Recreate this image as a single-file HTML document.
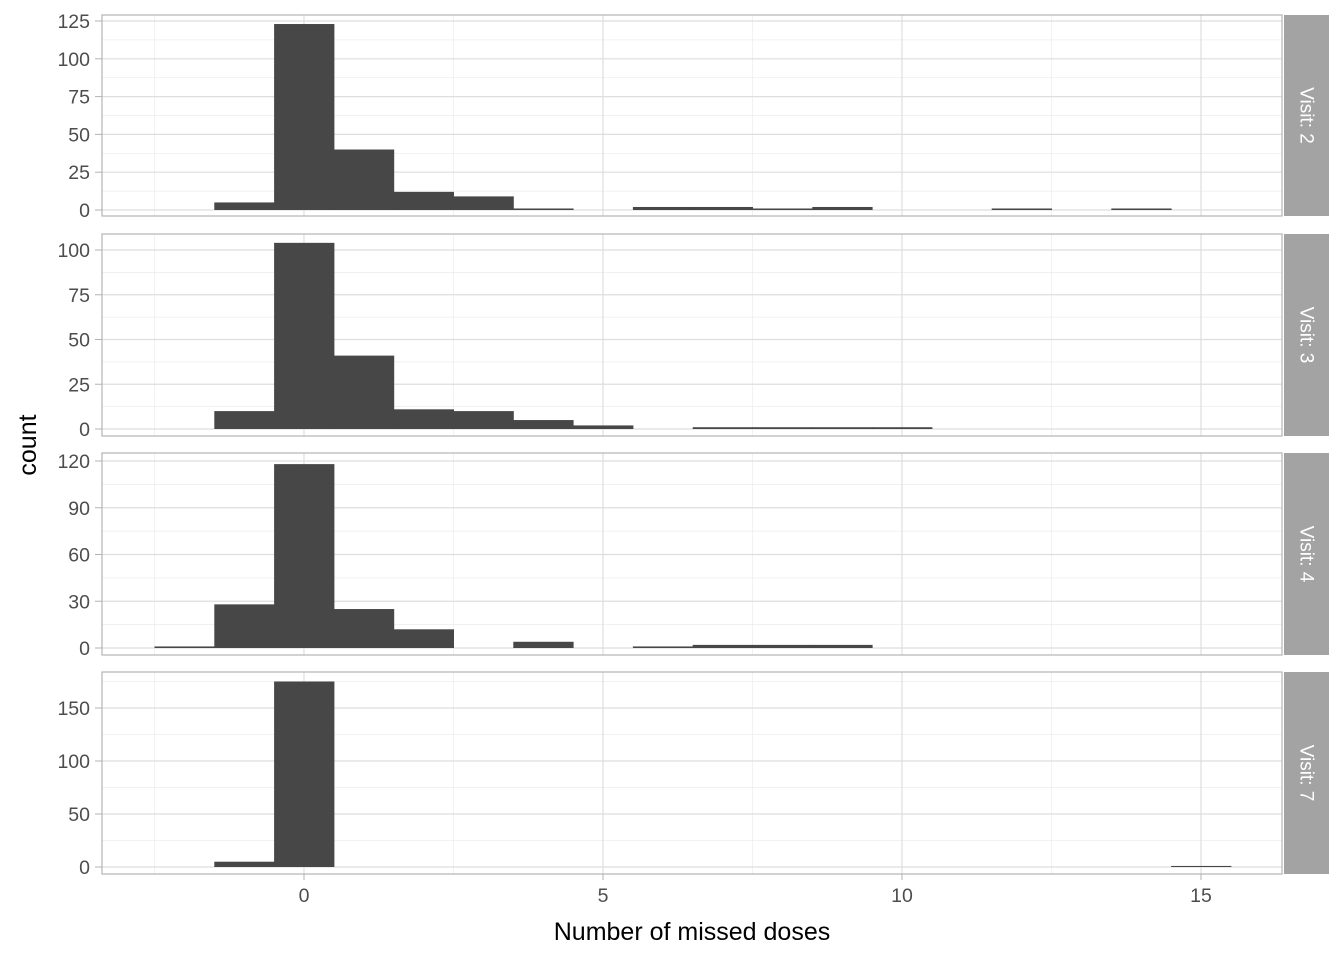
<!DOCTYPE html>
<html><head><meta charset="utf-8"><style>
body{margin:0;background:#fff;}
svg text{font-family:"Liberation Sans",Arial,sans-serif;}
</style></head><body>
<svg id="chart" width="1344" height="960" xmlns="http://www.w3.org/2000/svg"></svg>
<script>
const xTicks=[0,5,10,15];
const bins1=[-1,0,1,2,3,4,6,7,8,9,12,14];
const counts1=[5,123,40,12,9,1,2,2,1,2,1,1];
const bins2=[-1,0,1,2,3,4,5,7,8,9,10];
const counts2=[10,104,41,11,10,5,2,1,1,1,1];
const bins3=[-2,-1,0,1,2,4,6,7,8,9];
const counts3=[1,28,118,25,12,4,1,2,2,2];
const bins4=[-1,0,15];
const counts4=[5,175,1];
const yTicks1=[0,25,50,75,100,125];
const yTicks2=[0,25,50,75,100];
const yTicks3=[0,30,60,90,120];
const yTicks4=[0,50,100,150];
const stripLabels=["Visit: 2","Visit: 3","Visit: 4","Visit: 7"];

const NS="http://www.w3.org/2000/svg";
const svg=document.getElementById('chart');
function mk(t,a,p){const e=document.createElementNS(NS,t);for(const k in a)e.setAttribute(k,a[k]);(p||svg).appendChild(e);return e;}
const L=102,R=1282;
const xs=v=>304+(v)*59.8;
const panels=[
 {top:15,bot:216,z:210,ref:125,refy:21,bins:bins1,counts:counts1,ticks:yTicks1},
 {top:234,bot:436,z:429,ref:100,refy:250,bins:bins2,counts:counts2,ticks:yTicks2},
 {top:453,bot:655,z:648,ref:120,refy:461,bins:bins3,counts:counts3,ticks:yTicks3},
 {top:672,bot:874,z:867,ref:150,refy:708,bins:bins4,counts:counts4,ticks:yTicks4}
];
panels.forEach((p,i)=>{
 const ys=v=>p.z+(p.refy-p.z)*v/p.ref;
 const g=mk('g',{});
 
 
 mk('rect',{x:L,y:p.top,width:R-L,height:p.bot-p.top,fill:'#fff'},g);
 const step=p.ticks[1]-p.ticks[0];
 for(let k=0;k<p.ticks.length;k++){const v=p.ticks[k]+step/2;const y=ys(v);if(y>p.top)mk('line',{x1:L,x2:R,y1:y,y2:y,stroke:'#ececec','stroke-width':0.7},g);}
 [-2.5,2.5,7.5,12.5].forEach(v=>mk('line',{x1:xs(v),x2:xs(v),y1:p.top,y2:p.bot,stroke:'#ececec','stroke-width':0.7},g));
 p.ticks.forEach(v=>{const y=ys(v);mk('line',{x1:L,x2:R,y1:y,y2:y,stroke:'#dedede','stroke-width':1.2},g);
  const t=mk('text',{x:90,y:y+7,'text-anchor':'end','font-size':19.5,fill:'#4d4d4d'},g);t.textContent=v;
  
  mk('line',{x1:95,x2:L,y1:y,y2:y,stroke:'#b3b3b3'},g);});
 xTicks.forEach(v=>mk('line',{x1:xs(v),x2:xs(v),y1:p.top,y2:p.bot,stroke:'#dedede','stroke-width':1.2},g));
 p.bins.forEach((b,j)=>{const r=mk('rect',{x:xs(b-0.5),width:60.3,y:ys(p.counts[j]),height:p.z-ys(p.counts[j]),fill:'#474747'},g);
  });
 mk('rect',{x:L,y:p.top,width:R-L,height:p.bot-p.top,fill:'none',stroke:'#b3b3b3','stroke-width':1.2},g);
 const s=mk('rect',{x:1284,y:p.top,width:45,height:p.bot-p.top,fill:'#a3a3a3'},g);
 
 const cy=(p.top+p.bot)/2;
 const st=mk('text',{x:1306,y:cy,'text-anchor':'middle','dominant-baseline':'central','font-size':19,fill:'#fff',transform:`rotate(90 1306 ${cy})`},g);
 st.textContent=stripLabels[i];
});
xTicks.forEach(v=>{mk('line',{x1:xs(v),x2:xs(v),y1:874,y2:880,stroke:'#b3b3b3'});
 const t=mk('text',{x:xs(v),y:902,'text-anchor':'middle','font-size':19.5,fill:'#4d4d4d'});t.textContent=v;
 });
const xt=mk('text',{x:692,y:940,'text-anchor':'middle','font-size':25,fill:'#000'});xt.textContent='Number of missed doses';

const yt=mk('text',{x:36,y:445,'text-anchor':'middle','font-size':25,fill:'#000',transform:'rotate(-90 36 445)'});yt.textContent='count';

</script>
</body></html>
